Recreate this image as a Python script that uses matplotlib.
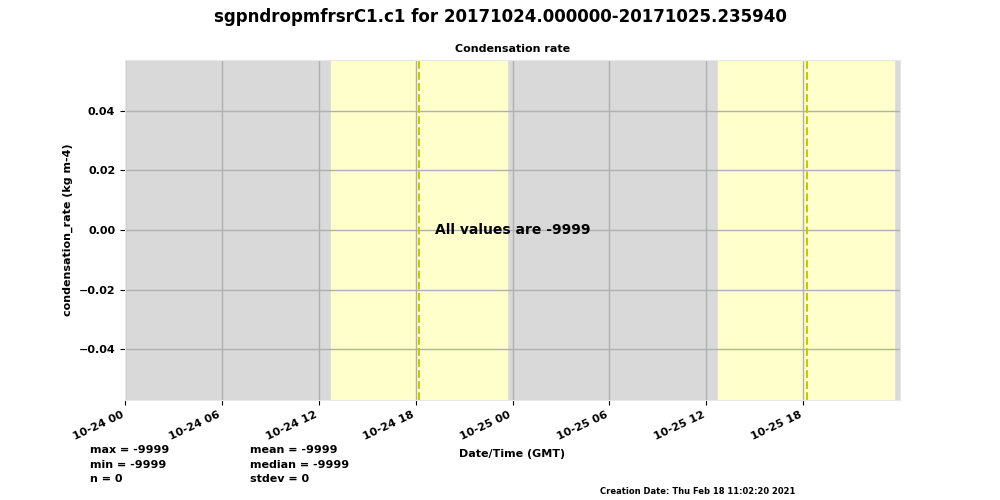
import matplotlib
matplotlib.use('Agg')
import matplotlib.pyplot as plt
import matplotlib.dates as mdates
import datetime as dt

# Data
start = dt.datetime(2017, 10, 24, 0, 0, 0)
end = dt.datetime(2017, 10, 25, 23, 59, 40)
day_starts = [dt.datetime(2017, 10, 24, 12, 44), dt.datetime(2017, 10, 25, 12, 42)]
day_ends = [dt.datetime(2017, 10, 24, 23, 41), dt.datetime(2017, 10, 25, 23, 39)]
solar_noons = [dt.datetime(2017, 10, 24, 18, 13), dt.datetime(2017, 10, 25, 18, 13)]
stats_left = ['max = -9999', 'min = -9999', 'n = 0']
stats_right = ['mean = -9999', 'median = -9999', 'stdev = 0']

fig = plt.figure(figsize=(10, 5), dpi=100)
ax = fig.add_axes([0.125, 0.2, 0.775, 0.68])
ax.set_facecolor('#d9d9d9')

# daytime shading and solar noon
for s, e in zip(day_starts, day_ends):
    ax.axvspan(s, e, color='#ffffcc', zorder=0)
for n in solar_noons:
    ax.axvline(n, color='#c8c800', linestyle='--', linewidth=1.5, zorder=2)

ax.set_xlim(start, end)
ax.set_ylim(-0.0571, 0.0571)
ax.set_yticks([-0.04, -0.02, 0.0, 0.02, 0.04])
ax.xaxis.set_major_locator(mdates.HourLocator(byhour=[0, 6, 12, 18]))
ax.xaxis.set_major_formatter(mdates.DateFormatter('%m-%d %H'))
ax.grid(True, color='#b0b0b0', linewidth=1, zorder=1)
ax.set_axisbelow(True)
for sp in ax.spines.values():
    sp.set_color('#e8e8e8')

for lbl in ax.get_xticklabels():
    lbl.set_rotation(25)
    lbl.set_ha('right')
    lbl.set_fontweight('bold')
    lbl.set_fontsize(8)
for lbl in ax.get_yticklabels():
    lbl.set_fontweight('bold')
    lbl.set_fontsize(8)

ax.text(0.5, 0.5, 'All values are -9999', transform=ax.transAxes,
        ha='center', va='center', fontsize=10, fontweight='bold')

ax.set_title('Condensation rate', fontsize=8, fontweight='bold', pad=6)
ax.set_ylabel('condensation_rate (kg m-4)', fontsize=8, fontweight='bold')
ax.set_xlabel('Date/Time (GMT)', fontsize=8, fontweight='bold', labelpad=5)

fig.suptitle('sgpndropmfrsrC1.c1 for 20171024.000000-20171025.235940',
             fontsize=12, fontweight='bold', y=0.985)

for i, t in enumerate(stats_left):
    fig.text(0.09, 0.1 - i * 0.029, t, fontsize=8, fontweight='bold', va='center')
for i, t in enumerate(stats_right):
    fig.text(0.25, 0.1 - i * 0.029, t, fontsize=8, fontweight='bold', va='center')

fig.text(0.6, 0.016, 'Creation Date: Thu Feb 18 11:02:20 2021',
         fontsize=6, fontweight='bold', va='center')

fig.savefig('out.png', dpi=100)
